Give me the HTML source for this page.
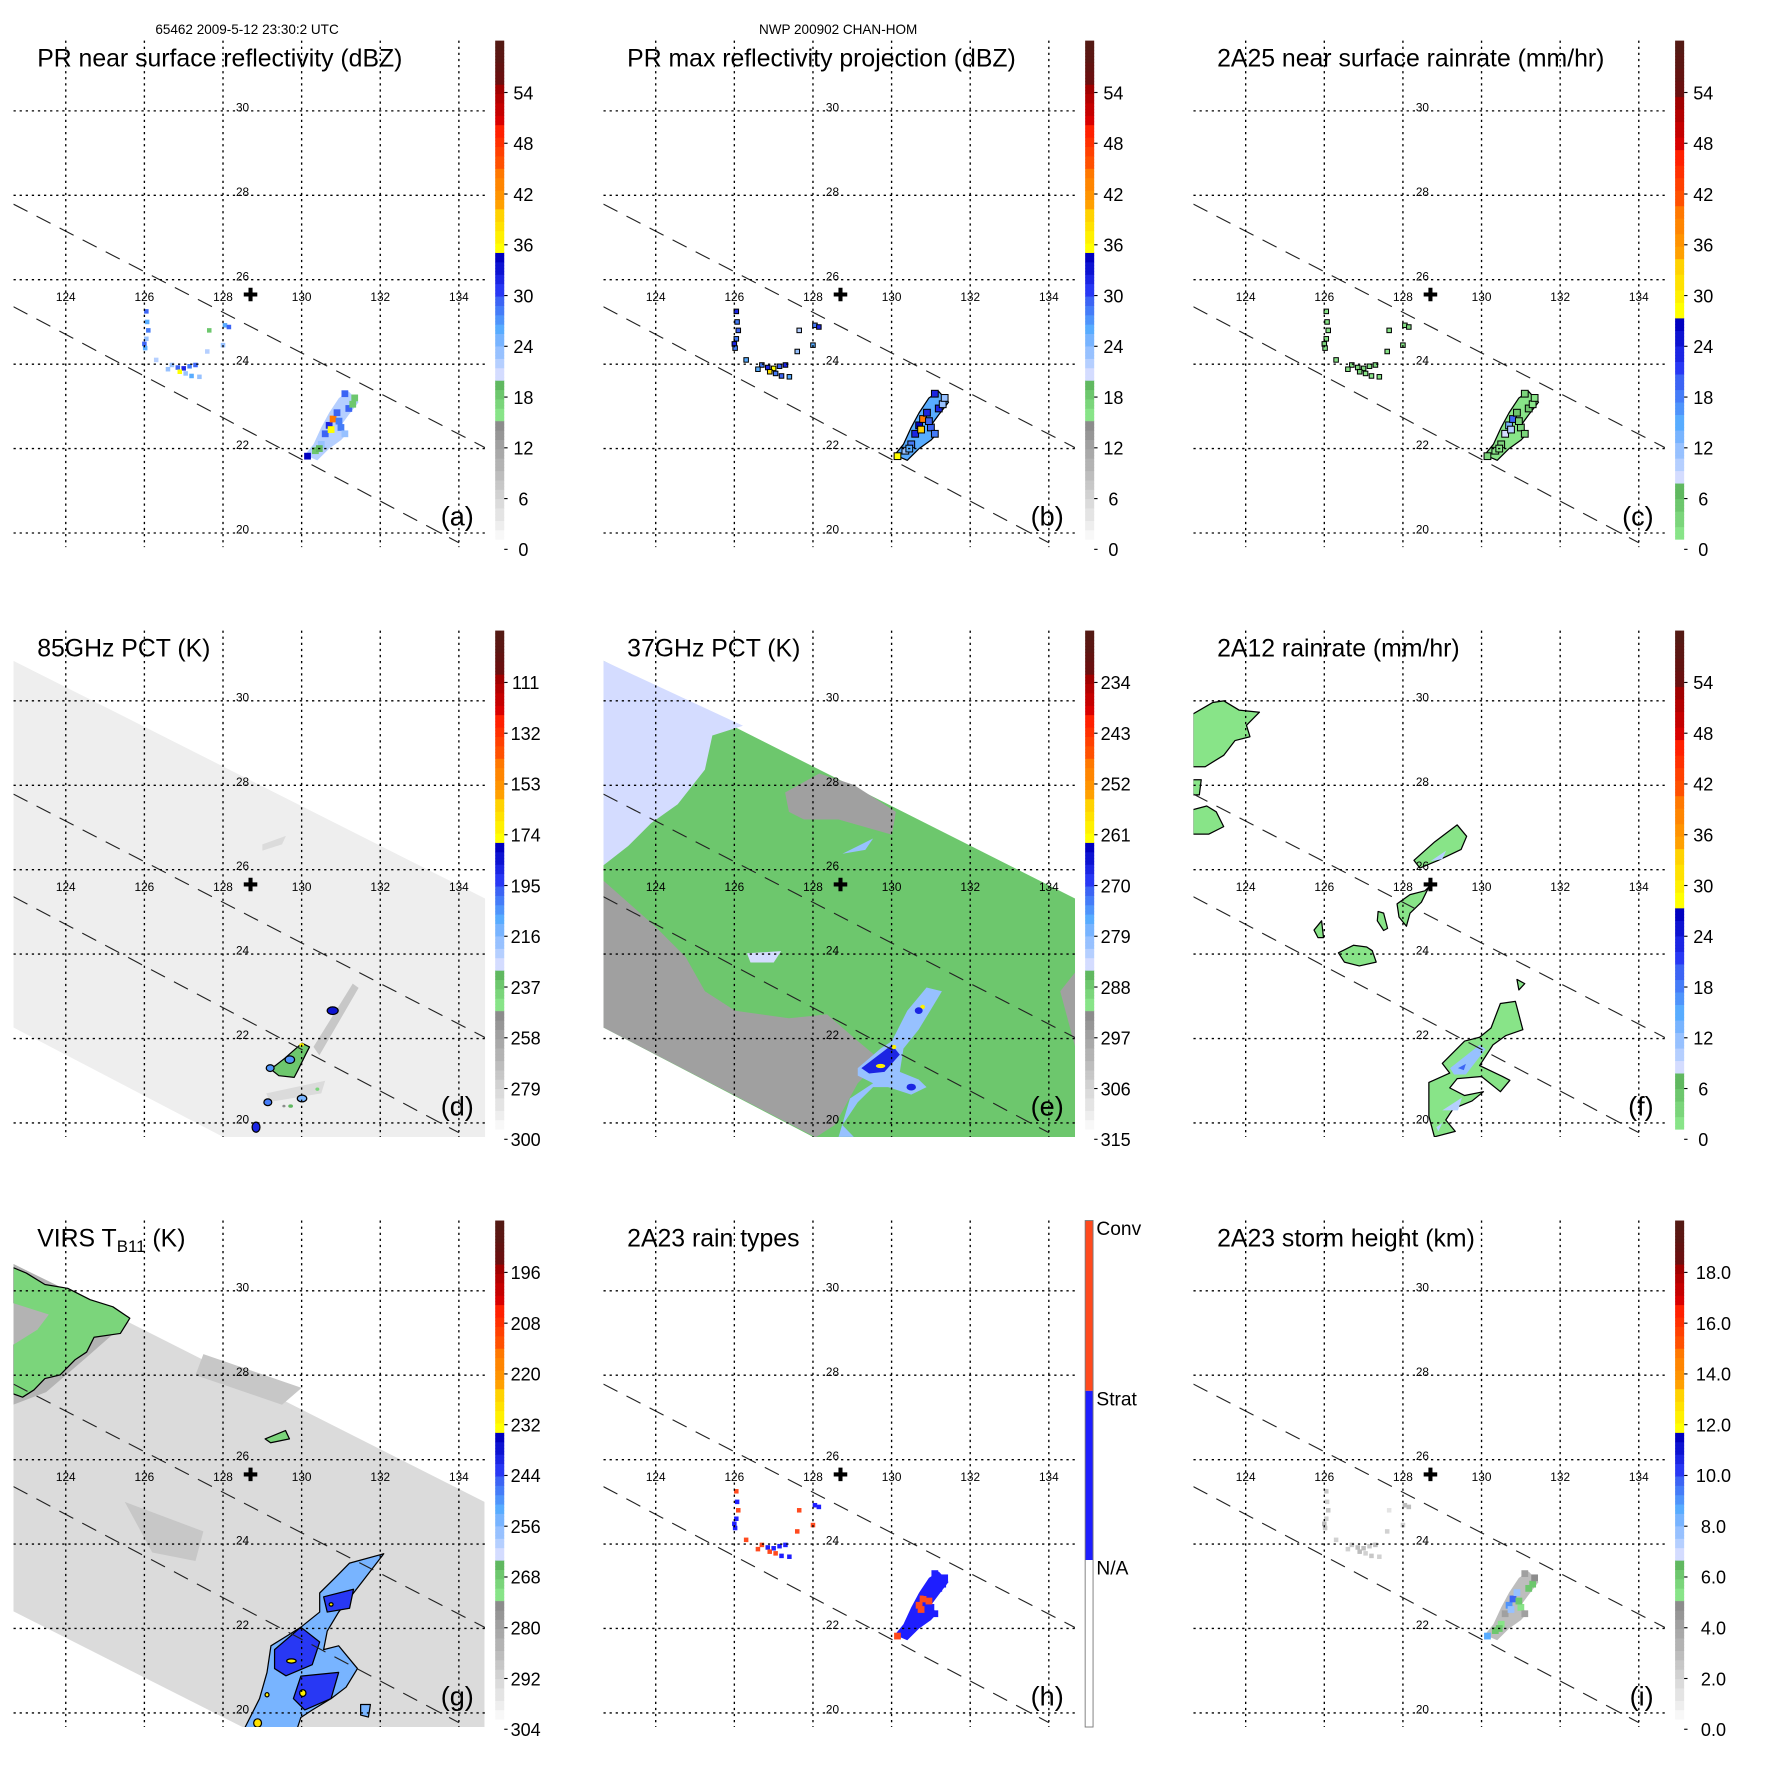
<!DOCTYPE html>
<html><head><meta charset="utf-8"><title>TRMM overpass panels</title>
<style>
html,body{margin:0;padding:0;background:#fff;}
svg{display:block;font-family:"Liberation Sans",Arial,sans-serif;}
</style></head>
<body>
<svg id="fig" xmlns="http://www.w3.org/2000/svg" width="1771" height="1771" viewBox="0 0 1570 1570">
<rect x="0" y="0" width="1570" height="1570" fill="#fff"/>
<text x="219" y="30" font-size="12" text-anchor="middle">65462 2009-5-12 23:30:2 UTC</text>
<text x="743" y="30" font-size="12" text-anchor="middle">NWP 200902 CHAN-HOM</text>
</svg>
<script>
// ---------- tick label arrays ----------
const ticksDBZ = ['0','6','12','18','24','30','36','42','48','54'];
const ticks85 = ['300','279','258','237','216','195','174','153','132','111'];
const ticks37 = ['315','306','297','288','279','270','261','252','243','234'];
const ticksVIRS = ['304','292','280','268','256','244','232','220','208','196'];
const ticksHeight = ['0.0','2.0','4.0','6.0','8.0','10.0','12.0','14.0','16.0','18.0'];
const ticksType = ['Conv','Strat','N/A'];
const lonTicks = [124,126,128,130,132,134];
const latTicks = [20,22,24,26,28,30];
const centerLon = 128.7, centerLat = 25.65;

// ---------- PR pixel locations (lon/lat) ----------
const prLon = [126.05,126.07,126.1,126.05,126.0,126.02,126.3,126.7,126.85,127.0,127.15,127.3,127.05,127.2,127.4,127.6,127.65,128.05,128.15,128.0,126.9,126.6,
               130.15,130.35,130.5,130.6,130.7,130.8,130.9,131.0,131.1,131.2,131.3,131.35,131.1,130.75,130.95,130.45];
const prLat = [25.25,25.0,24.8,24.6,24.48,24.38,24.1,23.98,23.92,23.9,23.95,23.98,23.78,23.72,23.7,24.3,24.8,24.92,24.88,24.45,23.82,23.88,
               21.82,21.95,22.1,22.35,22.55,22.7,22.85,22.5,22.35,22.95,23.05,23.2,23.3,22.45,22.65,22.0];
const aVals = [30,26,28,24,30,26,22,24,30,32,28,30,24,26,24,22,18,26,30,24,36,24, 34,18,24,30,32,44,30,28,24,30,18,18,30,36,28,20];
const bVals = [32,28,30,28,32,28,26,28,32,36,30,32,28,30,26,24,22,28,32,26,38,26, 36,24,28,32,34,44,32,30,28,32,24,24,32,40,30,26];
const cVals = [2,2,2,2,3,2,1,2,3,3,2,3,2,2,2,1,1,2,3,2,4,2, 4,2,3,8,14,20,6,4,3,5,2,2,4,10,4,2];
const hVals = [2,1,2,1,1,1,2,2,1,1,1,1,2,1,1,2,2,1,1,2,2,2, 2,1,1,1,2,2,1,1,1,1,1,1,1,2,2,1];
const iVals = [2.5,2,2.5,2,3,2.5,2,2.5,3,3,2.5,3,2,2.5,2,2,1.5,3,3,2,3,2, 8.5,6,5.5,4,9,10,8,5.5,4,6,6,5,4,8,6,6];
const stormBody = [130.08,21.85,130.4,21.72,130.7,22.0,131.0,22.2,131.15,22.35,131.0,22.55,131.2,22.8,131.45,23.1,131.2,23.35,130.95,23.2,130.7,22.85,130.5,22.5,130.3,22.1];
const bodyVals = {a:22,b:26,c:2,h:1,i:3};

// ---------- swaths ----------
const swathDE = [122.67,30.95,134.68,25.31,134.68,19.66,128.02,19.66,122.67,22.26];
const swathG = [122.66,30.64,134.65,25.0,134.65,19.64,128.55,19.64,122.66,22.41];
const edgeUpper = [122.67,27.79,134.67,22.02];
const edgeLower = [122.67,25.36,134.0,19.77];

// ---------- 85 GHz (d) ----------
const dBase = 289;
const dStreaks = [[274,[130.3,21.8,131.3,23.3,131.45,23.2,130.45,21.6]],[280,[129.1,20.7,130.6,21.0,130.5,20.7,129.2,20.5]],[281,[129.0,26.6,129.6,26.8,129.5,26.6,129.0,26.45]]];
const dBlobs = [[235,[129.57,21.53,130.01,21.89,130.2,21.8,130.1,21.62,129.91,21.26,129.81,21.08,129.42,21.12,129.18,21.3,129.32,21.35]]];
const dCells = [[130.79,22.66,0.14,0.09,185],[130.01,20.58,0.12,0.08,215],[129.14,20.49,0.1,0.08,200],[128.84,19.9,0.1,0.12,190],[130.4,20.8,0.05,0.04,240],[129.72,20.4,0.06,0.04,230],[129.2,21.3,0.1,0.08,205],[129.7,21.5,0.12,0.09,205],[130.0,21.85,0.06,0.04,170],[129.55,20.4,0.04,0.03,250]];

// ---------- 37 GHz (e) ----------
const eBase = 288;
const eRegions = [
 [283,[122.67,30.95,126.22,29.41,125.44,29.18,125.25,28.37,124.56,27.55,123.88,27.1,123.3,26.56,122.67,26.1]],
 [296,[122.67,25.74,123.98,24.66,124.76,23.93,125.25,23.12,126.02,22.66,127.39,22.48,128.36,22.57,129.14,21.94,129.72,21.49,129.14,20.94,128.55,19.95,128.07,19.66,122.67,22.26]],
 [296,[127.29,27.83,128.16,28.28,129.04,28.01,130.11,27.37,130.01,26.83,129.33,27.01,128.65,27.19,127.77,27.19,127.39,27.37]],
 [296,[134.29,23.12,134.68,23.58,134.68,21.76]],
 [283,[126.32,24.02,127.19,24.07,127.0,23.8,126.41,23.8]],
 [280,[128.75,26.38,129.53,26.74,129.33,26.47]],
 [280,[129.14,21.3,129.72,21.76,130.01,21.94,130.4,22.66,130.89,23.21,131.28,23.12,130.98,22.66,130.69,22.21,130.3,21.76,130.21,21.21,130.69,21.03,130.89,20.85,130.5,20.67,129.91,20.85,129.53,20.85,129.14,20.49,128.75,19.95,129.04,19.67,128.65,19.67,128.94,20.58,129.53,20.94,129.14,21.12]],
 [268,[129.23,21.3,130.01,21.85,130.21,21.62,129.82,21.21,129.43,21.17]]
];
const eCells = [[129.72,21.35,0.12,0.05,260],[130.06,21.8,0.06,0.05,260],[130.79,22.75,0.06,0.05,260],[130.69,22.66,0.1,0.08,268],[130.5,20.85,0.12,0.08,268]];

// ---------- VIRS (g) ----------
const gBase = 294;
const gRegions = [
 [288,[125.5,25.0,127.5,24.3,127.3,23.6,126.2,23.8]],
 [289,[127.5,28.5,130.0,27.7,129.5,27.3,127.3,28.0]],
 [285,[122.66,30.64,125.6,29.3,124.5,28.4,123.5,27.6,122.66,27.3]],
 [270,[122.66,30.55,122.995,30.42,123.47,30.15,124.05,30.06,124.62,29.79,125.2,29.62,125.63,29.35,125.39,28.99,124.72,28.9,124.53,28.55,124.24,28.37,123.86,28.01,123.47,27.92,123.19,27.65,122.9,27.48,122.66,27.56]],
 [285,[122.66,29.71,123.57,29.44,123.28,29.08,122.66,28.72]],
 [270,[129.07,26.49,129.59,26.69,129.69,26.49,129.21,26.4]],
 [255,[131.22,23.55,132.09,23.77,131.61,23.19,131.32,22.84,130.94,22.39,130.65,21.94,130.56,21.5,130.94,21.59,131.42,21.05,131.13,20.61,130.75,20.34,130.27,20.07,129.98,19.89,129.89,19.64,128.55,19.64,128.93,20.34,129.12,20.96,129.22,21.59,129.69,21.86,129.98,22.03,130.46,22.39,130.46,22.84,130.84,23.19]],
 [242,[130.56,22.75,131.32,22.93,131.22,22.48,130.65,22.39]],
 [242,[129.31,21.5,129.98,22.03,130.46,21.68,130.27,21.14,129.6,20.88,129.31,21.05]],
 [242,[129.98,20.87,130.94,20.96,130.75,20.34,130.08,20.07,129.79,20.34]],
 [255,[131.5,20.2,131.75,20.2,131.7,19.9,131.5,19.95]]
];
const gCells = [[129.74,21.23,0.12,0.05,230],[130.03,20.47,0.08,0.08,230],[128.88,19.76,0.1,0.1,228],[129.12,20.43,0.05,0.05,230],[130.75,22.57,0.05,0.04,230]];

// ---------- 2A12 (f) ----------
const fRegions = [
 [2,[122.66,29.69,123.16,29.96,123.44,30.0,123.83,29.78,124.35,29.73,124.02,29.42,124.11,29.15,123.73,29.06,123.44,28.71,122.97,28.44,122.66,28.44]],
 [2,[122.66,28.13,122.87,28.13,122.82,27.77,122.66,27.77]],
 [2,[122.66,27.42,123.01,27.51,123.25,27.37,123.44,27.02,123.06,26.84,122.66,26.84]],
 [2,[128.28,26.22,128.81,26.66,129.38,27.06,129.62,26.79,129.48,26.48,128.9,26.22,128.43,26.04]],
 [2,[127.85,25.19,128.18,25.41,128.56,25.5,128.66,25.59,128.47,25.23,128.18,24.97,128.09,24.66,127.9,24.88]],
 [2,[127.37,25.01,127.51,24.97,127.61,24.61,127.51,24.56,127.35,24.79]],
 [2,[125.74,24.57,125.93,24.79,125.98,24.39,125.84,24.39]],
 [2,[126.36,24.03,126.74,24.21,127.08,24.17,127.22,24.08,127.32,23.81,126.89,23.72,126.51,23.81]],
 [2,[129.0,21.41,129.57,21.94,129.95,22.03,130.24,22.25,130.48,22.83,130.86,22.88,131.05,22.21,130.62,22.07,130.29,21.85,129.95,21.36,130.53,21.1,130.72,21.01,130.48,20.74,130.0,21.1,129.38,21.05,129.19,20.83,129.57,20.65,130.05,20.74,129.76,20.52,129.28,20.34,129.09,20.07,129.33,19.8,128.8,19.67,128.66,20.16,128.66,20.96,129.0,21.1,129.19,21.18]],
 [2,[130.9,23.4,131.1,23.3,130.95,23.15]]
];
const fInner = [[12,[129.2,21.3,129.95,21.85,130.1,21.75,129.6,21.15,129.3,21.15]],[20,[129.4,21.3,129.6,21.4,129.55,21.25]],[10,[129.0,20.3,129.5,20.6,129.4,20.3]],[10,[128.85,19.9,129.0,20.0,128.9,19.8]],[10,[128.7,26.2,129.1,26.45,129.0,26.25]]];

// ---------- colour maps ----------
const GA=[[0,0.24,'#f8f8f8','#8c8c8c',12],[0.24,0.32,'#88e488','#60b860',4],[0.32,0.41,'#d4dcff','#78b4ff',4],[0.41,0.49,'#58acff','#3c64f4',4],[0.49,0.575,'#2838f4','#0000c0',4],[0.575,0.66,'#ffff00','#ffd200',4],[0.66,0.745,'#ffa000','#ff7800',4],[0.745,0.83,'#ff5000','#ff2000',4],[0.83,0.915,'#d80000','#a00000',4],[0.915,1.001,'#6a1010','#541a14',4]];
const GB=[[0,0.11,'#88e488','#60b860',4],[0.11,0.22,'#d4dcff','#78b4ff',4],[0.22,0.33,'#58acff','#3c64f4',4],[0.33,0.445,'#2838f4','#0000c0',4],[0.445,0.56,'#ffff00','#ffd200',4],[0.56,0.67,'#ffa000','#ff7800',4],[0.67,0.78,'#ff5000','#ff2000',4],[0.78,0.89,'#d80000','#a00000',4],[0.89,1.001,'#6a1010','#541a14',4]];
function hx(c){return [parseInt(c.substr(1,2),16),parseInt(c.substr(3,2),16),parseInt(c.substr(5,2),16)];}
function cmap(G,f){
  f=Math.max(0,Math.min(1,f));
  for(const g of G){ if(f>=g[0]&&f<g[1]){
    let idx=Math.floor((f-g[0])/(g[1]-g[0])*g[4]); idx=Math.min(idx,g[4]-1);
    const t=g[4]>1?idx/(g[4]-1):0; const a=hx(g[2]),b=hx(g[3]);
    return 'rgb('+a.map((v,i)=>Math.round(v+(b[i]-v)*t)).join(',')+')';}}
  return G[G.length-1][3];
}

const NS='http://www.w3.org/2000/svg';
const svg=document.getElementById('fig');
function el(tag,parent){const e=document.createElementNS(NS,tag);parent.appendChild(e);return e;}
function at(e,o){for(const k in o)e.setAttribute(k,o[k]);}
function X(lon){return 58.3+(lon-124)*34.85;}
function Y(lat){return 472.5-(lat-20)*37.42;}
function pts(a){let s='';for(let i=0;i<a.length;i+=2)s+=X(a[i]).toFixed(1)+','+Y(a[i+1]).toFixed(1)+' ';return s;}

const panels=[
 {id:'a',c:0,r:0,title:'PR near surface reflectivity (dBZ)',G:GA,v0:0,step:6,ticks:ticksDBZ,lx:464},
 {id:'b',c:1,r:0,title:'PR max reflectivity projection (dBZ)',G:GA,v0:0,step:6,ticks:ticksDBZ,lx:464},
 {id:'c',c:2,r:0,title:'2A25 near surface rainrate (mm/hr)',G:GB,v0:0,step:6,ticks:ticksDBZ,lx:464},
 {id:'d',c:0,r:1,title:'85GHz PCT (K)',G:GA,v0:300,step:-21,ticks:ticks85,lx:466},
 {id:'e',c:1,r:1,title:'37GHz PCT (K)',G:GA,v0:315,step:-9,ticks:ticks37,lx:466},
 {id:'f',c:2,r:1,title:'2A12 rainrate (mm/hr)',G:GB,v0:0,step:6,ticks:ticksDBZ,lx:464},
 {id:'g',c:0,r:2,title:'VIRS T',G:GA,v0:304,step:-12,ticks:ticksVIRS,lx:466},
 {id:'h',c:1,r:2,title:'2A23 rain types',G:null,v0:0,step:1,ticks:ticksType,lx:449},
 {id:'i',c:2,r:2,title:'2A23 storm height (km)',G:GA,v0:0,step:2,ticks:ticksHeight,lx:473}
];
function col(p,v){
  if(!p.G){return v>=2?'#ff4a1e':(v>=1?'#1e1eff':'#ffffff');}
  const f=((v-p.v0)/p.step*45-9)/442; return cmap(p.G,f);
}
function poly(g,p,v,arr,stroke){
  const e=el('polygon',g); at(e,{points:pts(arr),fill:col(p,v),stroke:stroke||'none','stroke-width':stroke?1.1:0,'stroke-linejoin':'round'});
  
  
}
function blob(g,p,c,stroke){
  const e=el('ellipse',g); at(e,{cx:X(c[0]),cy:Y(c[1]),rx:c[2]*34.85,ry:c[3]*37.42,fill:col(p,c[4]),stroke:stroke||'none','stroke-width':stroke?1.1:0});
  
  
}
function pixels(g,p,vals,stroke){
  for(let i=0;i<prLon.length;i++){
    const s=i<22?4:6;
    const e=el('rect',g); at(e,{x:X(prLon[i])-s/2,y:Y(prLat[i])-s/2,width:s,height:s,fill:col(p,vals[i]),stroke:stroke||'none','stroke-width':stroke?0.9:0});
    
    
  }
}

panels.forEach(p=>{
  const g=el('g',svg); at(g,{transform:'translate('+(p.c*523)+','+(p.r*523)+')'});
  
  
  const cp=el('clipPath',g); at(cp,{id:'clip'+p.id});
  const cr=el('rect',cp); at(cr,{x:12,y:36,width:418,height:449});
  const plot=el('g',g); at(plot,{'clip-path':'url(#clip'+p.id+')'});
  
  

  if(p.id==='d'){
    poly(plot,p,dBase,swathDE);
    dStreaks.forEach(s=>poly(plot,p,s[0],s[1]));
    dBlobs.forEach(s=>poly(plot,p,s[0],s[1],'#000'));
    dCells.forEach(c=>blob(plot,p,c,c[4]<=215&&c[2]>=0.1?'#000':null));
  } else if(p.id==='e'){
    poly(plot,p,eBase,swathDE);
    eRegions.forEach(s=>poly(plot,p,s[0],s[1]));
    eCells.forEach(c=>blob(plot,p,c));
  } else if(p.id==='g'){
    poly(plot,p,gBase,swathG);
    gRegions.forEach(s=>poly(plot,p,s[0],s[1],s[0]<=270?'#000':null));
    gCells.forEach(c=>blob(plot,p,c,'#000'));
  } else if(p.id==='f'){
    fRegions.forEach(s=>poly(plot,p,s[0],s[1],'#000'));
    fInner.forEach(s=>poly(plot,p,s[0],s[1]));
  } else {
    const vals={a:aVals,b:bVals,c:cVals,h:hVals,i:iVals}[p.id];
    const outline=(p.id==='b'||p.id==='c')?'#000':null;
    poly(plot,p,bodyVals[p.id],stormBody,outline);
    pixels(plot,p,vals,outline);
  }

  lonTicks.forEach(lon=>{
    const l=el('line',g); at(l,{x1:X(lon),x2:X(lon),y1:36,y2:485,stroke:'#000','stroke-width':1.2,'stroke-dasharray':'2,3.4'});
    
    
    const t=el('text',g); at(t,{x:X(lon),y:267,'font-size':10.5,'text-anchor':'middle'}); t.textContent=lon;
    
    
  });
  latTicks.forEach(lat=>{
    const l=el('line',g); at(l,{x1:12,x2:430,y1:Y(lat),y2:Y(lat),stroke:'#000','stroke-width':1.2,'stroke-dasharray':'2,3.4'});
    
    
    const t=el('text',g); at(t,{x:215,y:Y(lat)+0.5,'font-size':10.5,'text-anchor':'middle'}); t.textContent=lat;
    
    
  });
  [edgeUpper,edgeLower].forEach(e2=>{
    const l=el('line',plot); at(l,{x1:X(e2[0]),y1:Y(e2[1]),x2:X(e2[2]),y2:Y(e2[3]),stroke:'#222','stroke-width':1,'stroke-dasharray':'14,9'});
    
    
  });
  const cx=X(centerLon),cy=Y(centerLat);
  const cross=el('path',g); at(cross,{d:'M'+(cx-6)+','+cy+'H'+(cx+6)+'M'+cx+','+(cy-6)+'V'+(cy+6),stroke:'#000','stroke-width':3.6});
  
  

  const tt=el('text',g); at(tt,{x:33,y:59,'font-size':22});
  
  
  if(p.id==='g'){
    tt.textContent='VIRS T';
    const s1=el('tspan',tt); at(s1,{'font-size':15,dy:5}); s1.textContent='B11';
    const s2=el('tspan',tt); at(s2,{dy:-5}); s2.textContent=' (K)';
  } else tt.textContent=p.title;
  const lt=el('text',g); at(lt,{x:420,y:466,'font-size':24,'text-anchor':'end'}); lt.textContent='('+p.id+')';
  
  

  const cb=el('g',g);
  
  
  if(p.id==='h'){
    const segs=[[36,187,'#ff4a1e'],[187,337,'#1e1eff'],[337,485,'#ffffff']];
    segs.forEach(s=>{const r=el('rect',cb); at(r,{x:439,y:s[0],width:7,height:s[1]-s[0],fill:s[2]});
      
      });
    const fr=el('rect',cb); at(fr,{x:439,y:36,width:7,height:449,fill:'none',stroke:'#777','stroke-width':0.8});
    [36,187,337].forEach((y,i)=>{const t=el('text',cb); at(t,{x:449,y:y+13,'font-size':17}); t.textContent=ticksType[i];
      
      });
  } else {
    const N=160;
    for(let k=0;k<N;k++){
      const y0=478-442*(k+1)/N, f=(k+0.5)/N;
      const r=el('rect',cb); at(r,{x:439,y:y0.toFixed(2),width:8,height:(442/N+0.4).toFixed(2),fill:cmap(p.G,f)});
      
      
    }
    p.ticks.forEach((lab,i)=>{
      const y=487-45*i;
      const tk=el('line',cb); at(tk,{x1:447,x2:450,y1:y,y2:y,stroke:'#000','stroke-width':1});
      
      
      const t=el('text',cb); at(t,{x:p.lx,y:y+6,'font-size':16,'text-anchor':'middle'}); t.textContent=lab;
      
      
    });
  }
});
</script>
</body></html>
